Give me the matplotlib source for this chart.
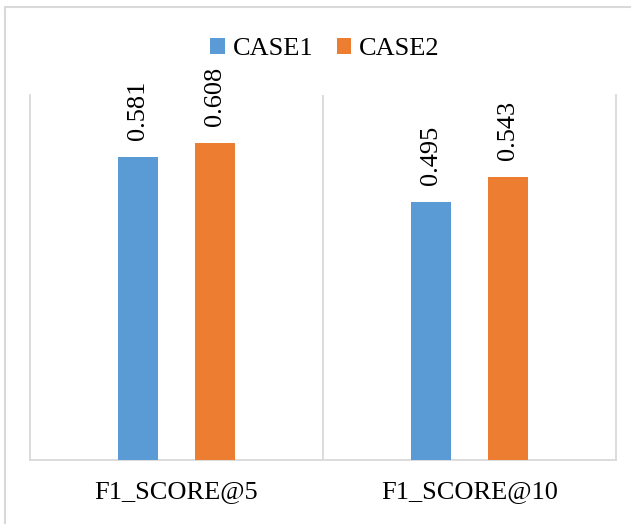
import matplotlib
matplotlib.use("Agg")
import matplotlib.pyplot as plt
from matplotlib.patches import Rectangle, Patch
import numpy as np

categories = ["F1_SCORE@5", "F1_SCORE@10"]
series_names = ["CASE1", "CASE2"]
case1 = [0.581, 0.495]
case2 = [0.608, 0.543]
colors = ["#5B9BD5", "#ED7D31"]
grid_color = "#D9D9D9"
serif = ["Liberation Serif", "DejaVu Serif"]

W, H = 631, 524
fig = plt.figure(figsize=(W / 100, H / 100), dpi=100)

# outer chart frame
fig.patches.append(Rectangle((5 / W, -0.05), 1.2, 1 - 6.5 / H + 0.05,
                             transform=fig.transFigure, fill=False,
                             edgecolor=grid_color, linewidth=1.5))

ax = fig.add_axes([30 / W, (H - 460) / H, (616 - 30) / W, (460 - 95) / H])
x = np.arange(len(categories))
bw = 0.137
off = 0.131
for vals, name, c, d in [(case1, series_names[0], colors[0], -off),
                         (case2, series_names[1], colors[1], off)]:
    bars = ax.bar(x + d, vals, width=bw, color=c, label=name, zorder=3)
    for b, v in zip(bars, vals):
        ax.annotate(f"{v:.3f}", (b.get_x() + b.get_width() / 2, v),
                    xytext=(0, 12), textcoords="offset points",
                    rotation=90, ha="center", va="bottom",
                    fontsize=19, family=serif, color="#000000")

ax.set_xlim(-0.5, len(categories) - 0.5)
ax.set_ylim(0, 0.7)
ax.set_yticks([])
for k in range(1, len(categories)):
    ax.axvline(k - 0.5, color=grid_color, linewidth=1.3, zorder=1)
for s in ["left", "right", "bottom"]:
    ax.spines[s].set_color(grid_color)
    ax.spines[s].set_linewidth(1.3)
ax.spines["top"].set_visible(False)
ax.set_xticks(x)
ax.set_xticklabels(categories, fontsize=19, family=serif)
ax.tick_params(axis="x", length=0, pad=15)

handles = [Patch(facecolor=c, edgecolor="none") for c in colors]
fig.legend(handles, series_names, loc="center",
           bbox_to_anchor=(325 / W, 1 - 49 / H), ncol=2, frameon=False,
           prop={"family": serif, "size": 19},
           handlelength=0.55, handleheight=0.55, handletextpad=0.3,
           columnspacing=0.9, borderaxespad=0)

fig.savefig("out.png", dpi=100)
